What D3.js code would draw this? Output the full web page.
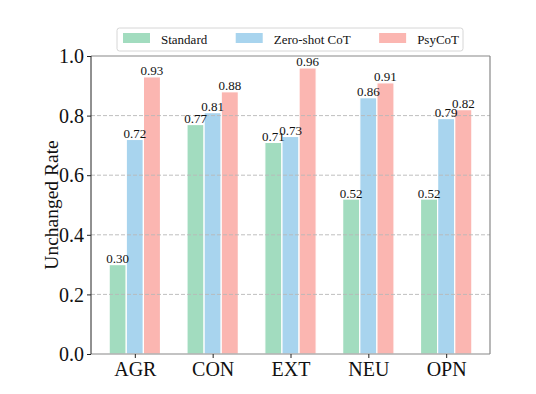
<!DOCTYPE html>
<html>
<head>
<meta charset="utf-8">
<script src="https://cdn.jsdelivr.net/npm/d3@7"></script>
<style>
body { margin: 0; background: #fff; }
text { font-family: "Liberation Serif", "Times New Roman", serif; fill: #111; }
</style>
</head>
<body>
<div id="chart"></div>
<script>
var categories = ["AGR", "CON", "EXT", "NEU", "OPN"];
var seriesNames = ["Standard", "Zero-shot CoT", "PsyCoT"];
var standard = [0.30, 0.77, 0.71, 0.52, 0.52];
var zeroShot = [0.72, 0.81, 0.73, 0.86, 0.79];
var psyCoT = [0.93, 0.88, 0.96, 0.91, 0.82];
var yTicks = [0.0, 0.2, 0.4, 0.6, 0.8, 1.0];

var colors = ["#a2dcbf", "#a8d4ee", "#fbb6b1"];
var series = [standard, zeroShot, psyCoT];

var W = 536, H = 394;
// plot frame (window.top is reserved, so use a box object)
var box = {left: 91, right: 490, top: 56, bottom: 354};
var barW = 0.22;

var svg = d3.select("#chart").append("svg")
    .attr("width", W)
    .attr("height", H);

var x = d3.scaleLinear().domain([-0.563, 4.563]).range([box.left, box.right]);
var y = d3.scaleLinear().domain([0, 1]).range([box.bottom, box.top]);

// bars
series.forEach(function(vals, s) {
    svg.append("g").selectAll("rect")
        .data(vals)
        .enter().append("rect")
        .attr("x", function(d, i) { return x(i + (s - 1) * barW - barW / 2); })
        .attr("y", function(d) { return y(d); })
        .attr("width", x(barW) - x(0))
        .attr("height", function(d) { return y(0) - y(d); })
        .attr("fill", colors[s])
        .attr("stroke", "#fff")
        .attr("stroke-width", 1.2);
});

// grid on top of bars
svg.append("g").selectAll("line")
    .data(yTicks.slice(1, 5))
    .enter().append("line")
    .attr("x1", box.left).attr("x2", box.right)
    .attr("y1", function(d) { return y(d); })
    .attr("y2", function(d) { return y(d); })
    .attr("stroke", "#b8b8b8")
    .attr("stroke-width", 0.9)
    .attr("stroke-dasharray", "4,2");

// value labels
series.forEach(function(vals, s) {
    svg.append("g").selectAll("text")
        .data(vals)
        .enter().append("text")
        .attr("x", function(d, i) { return x(i + (s - 1) * barW); })
        .attr("y", function(d) { return y(d) - 1.5; })
        .attr("text-anchor", "middle")
        .style("font-size", "13px")
        .text(function(d) { return d3.format(".2f")(d); });
});

// spines
svg.append("line").attr("x1", box.left).attr("x2", box.right).attr("y1", box.top).attr("y2", box.top)
    .attr("stroke", "#888").attr("stroke-width", 1.2);
svg.append("line").attr("x1", box.right).attr("x2", box.right).attr("y1", box.top).attr("y2", box.bottom)
    .attr("stroke", "#888").attr("stroke-width", 1.2);
svg.append("line").attr("x1", box.left).attr("x2", box.right).attr("y1", box.bottom).attr("y2", box.bottom)
    .attr("stroke", "#888").attr("stroke-width", 1.2);
svg.append("line").attr("x1", box.left).attr("x2", box.left).attr("y1", box.top).attr("y2", box.bottom)
    .attr("stroke", "#222").attr("stroke-width", 1);

// y axis
var yAxis = d3.axisLeft(y).tickValues(yTicks).tickFormat(d3.format(".1f")).tickSize(4).tickPadding(3);
var gy = svg.append("g").attr("transform", "translate(" + box.left + ",0)").call(yAxis);
gy.select(".domain").remove();
gy.selectAll("line").attr("stroke", "#222");
gy.selectAll("text").style("font-size", "20px").attr("dy", "0.33em")
    .style("font-family", "Liberation Serif, serif").attr("fill", "#111");

// x axis
var xAxis = d3.axisBottom(x).tickValues(d3.range(categories.length))
    .tickFormat(function(i) { return categories[i]; }).tickSize(4).tickPadding(4);
var gx = svg.append("g").attr("transform", "translate(0," + box.bottom + ")").call(xAxis);
gx.select(".domain").remove();
gx.selectAll("line").attr("stroke", "#222");
gx.selectAll("text").style("font-size", "20px").attr("dy", "0.72em")
    .style("font-family", "Liberation Serif, serif").attr("fill", "#111");

// y label
svg.append("text")
    .attr("transform", "translate(58," + ((box.top + box.bottom) / 2) + ") rotate(-90)")
    .attr("text-anchor", "middle")
    .style("font-size", "19.5px")
    .text("Unchanged Rate");

// legend
var leg = svg.append("g");
leg.append("rect")
    .attr("x", 117).attr("y", 28).attr("width", 346).attr("height", 23)
    .attr("rx", 2.5)
    .attr("fill", "#fff").attr("stroke", "#d6d6d6").attr("stroke-width", 1);
var lx = 123;
seriesNames.forEach(function(name, s) {
    leg.append("rect")
        .attr("x", lx).attr("y", 33).attr("width", 27).attr("height", 10)
        .attr("fill", colors[s]);
    var t = leg.append("text")
        .attr("x", lx + 38).attr("y", 43.5)
        .style("font-size", "13px")
        .text(name);
    lx += 38 + t.node().getComputedTextLength() + 28.5;
});
</script>
</body>
</html>
